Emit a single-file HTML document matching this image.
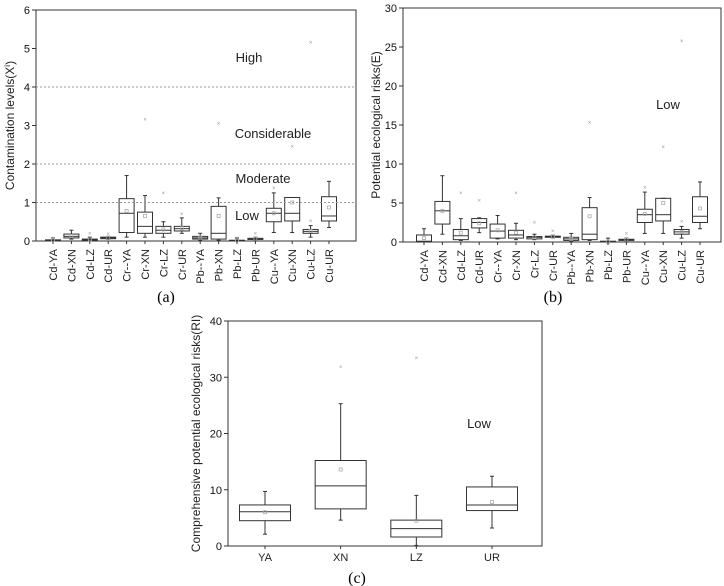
<!DOCTYPE html>
<html><head><meta charset="utf-8"><style>
body{margin:0;background:#fff}
svg{display:block;font-family:"Liberation Sans",sans-serif}
</style></head><body>
<svg id="s" width="724" height="586" viewBox="0 0 724 586"></svg>
<script>
const catsAB=["Cd-YA","Cd-XN","Cd-LZ","Cd-UR","Cr--YA","Cr-XN","Cr-LZ","Cr-UR","Pb--YA","Pb-XN","Pb-LZ","Pb-UR","Cu--YA","Cu-XN","Cu-LZ","Cu-UR"];
// [min,q1,median,q3,max]
const statsA=[[0,0.01,0.02,0.03,0.08],[0.05,0.08,0.12,0.18,0.28],[0,0.02,0.03,0.05,0.1],[0.04,0.06,0.08,0.1,0.12],[0.1,0.22,0.72,1.1,1.7],[0.1,0.2,0.38,0.75,1.18],[0.1,0.2,0.28,0.38,0.5],[0.2,0.26,0.32,0.38,0.6],[0.02,0.05,0.08,0.12,0.2],[0.02,0.05,0.2,0.9,1.12],[0,0.01,0.01,0.02,0.08],[0.02,0.04,0.05,0.07,0.1],[0.22,0.5,0.72,0.85,1.25],[0.22,0.52,0.72,1.13,1.13],[0.1,0.2,0.25,0.3,0.4],[0.35,0.52,0.65,1.15,1.55]];
const meansA=[0.03,0.13,0.04,0.08,0.78,0.65,0.3,0.33,0.09,0.65,0.02,0.06,0.72,1.0,0.26,0.87];
const outA=[[],[],[0.2],[0.18],[],[3.15],[1.25],[0.7],[],[3.05],[],[0.2],[1.38],[2.45],[0.52,5.15],[]];
const ticksA=[0,1,2,3,4,5,6];
const statsB=[[0,0,0.1,0.9,1.7],[1,2.3,4,5.2,8.5],[0.2,0.3,0.8,1.6,3],[1.2,1.8,2.5,3,3.1],[0.4,0.5,1.4,2.3,3.4],[0.3,0.5,0.9,1.5,2.4],[0.3,0.4,0.6,0.7,1],[0.5,0.6,0.7,0.75,0.9],[0.1,0.2,0.4,0.6,1.1],[0.2,0.3,1,4.4,5.7],[0,0,0.05,0.1,0.5],[0.1,0.2,0.3,0.35,0.5],[1.1,2.5,3.5,4.2,6.4],[1.1,2.7,3.5,5.6,5.6],[0.5,1,1.3,1.6,2],[1.7,2.5,3.3,5.8,7.7]];
const meansB=[0.5,4,1.2,2.4,1.5,1.2,0.6,0.7,0.4,3.3,0.05,0.3,3.6,5,1.3,4.3];
const outB=[[],[],[6.3],[5.3],[],[6.3],[2.5],[1.4],[],[15.3],[],[1.1],[7],[12.2],[2.6,25.8],[]];
const ticksB=[0,5,10,15,20,25,30];
const catsC=["YA","XN","LZ","UR"];
const statsC=[[2.1,4.5,6.1,7.3,9.7],[4.6,6.6,10.7,15.2,25.3],[0.1,1.6,3.1,4.6,9],[3.2,6.3,7.3,10.5,12.4]];
const meansC=[6,13.6,4.5,7.8];
const outC=[[],[31.8],[33.4],[]];
const ticksC=[0,10,20,30,40];

const S=document.getElementById('s'),NS="http://www.w3.org/2000/svg";
function mk(t,a,p){const e=document.createElementNS(NS,t);for(const k in a)e.setAttribute(k,a[k]);(p||S).appendChild(e);return e;}
function panel(id,L,R,T,B,ymax,ticks,cats,stats,means,outs,x0,x1,bw,rot,ytitle,tx){
  const g=mk('g',{});
  
  
  const y=v=>B-(v/ymax)*(B-T);
  const n=cats.length,x=i=>x0+(n>1?i*(x1-x0)/(n-1):0);
  const fr=mk('rect',{x:L,y:T,width:R-L,height:B-T,fill:'none',stroke:'#333','stroke-width':1},g);
  
  
  ticks.forEach(t=>{
    mk('line',{x1:L-4,x2:L,y1:y(t),y2:y(t),stroke:'#333'},g);
    const tt=mk('text',{x:L-6,y:y(t)+4,'text-anchor':'end','font-size':11,fill:'#111'},g);tt.textContent=t;
    
    
  });
  const yt=mk('text',{x:tx,y:(T+B)/2,'text-anchor':'middle','font-size':12,fill:'#222',transform:`rotate(-90 ${tx} ${(T+B)/2})`},g);
  yt.innerHTML=ytitle;
  
  
  cats.forEach((c,i)=>{
    const cx=x(i),s=stats[i],h=bw/2;
    const bg=mk('g',{},g);
    
    
    mk('line',{x1:cx,x2:cx,y1:y(s[0]),y2:y(s[1]),stroke:'#333'},bg);
    mk('line',{x1:cx,x2:cx,y1:y(s[3]),y2:y(s[4]),stroke:'#333'},bg);
    mk('line',{x1:cx-2,x2:cx+2,y1:y(s[0]),y2:y(s[0]),stroke:'#333'},bg);
    mk('line',{x1:cx-2,x2:cx+2,y1:y(s[4]),y2:y(s[4]),stroke:'#333'},bg);
    mk('rect',{x:cx-h,y:y(s[3]),width:bw,height:Math.max(0.5,y(s[1])-y(s[3])),fill:'none',stroke:'#333'},bg);
    mk('line',{x1:cx-h,x2:cx+h,y1:y(s[2]),y2:y(s[2]),stroke:'#333'},bg);
    mk('rect',{x:cx-1.5,y:y(means[i])-1.5,width:3,height:3,fill:'none',stroke:'#aaa','stroke-width':0.8},bg);
    outs[i].forEach(o=>{const t=mk('text',{x:cx,y:y(o)+2,'text-anchor':'middle','font-size':6,fill:'#999'},bg);t.textContent='×';});
    mk('line',{x1:cx,x2:cx,y1:B,y2:B+3,stroke:'#333'},g);
    let lt;
    if(rot){lt=mk('text',{x:cx+4,y:B+8,'text-anchor':'end','font-size':11,fill:'#222',transform:`rotate(-90 ${cx+4} ${B+8})`},g);}
    else lt=mk('text',{x:cx,y:B+15,'text-anchor':'middle','font-size':11,fill:'#222'},g);
    lt.textContent=c;
    
    
  });
  return {g,y};
}
const A=panel('panel-a-chart',36,356,10,241,6,ticksA,catsAB,statsA,meansA,outA,53,329,15,true,'Contamination levels(X<tspan font-size="8" baseline-shift="super">i</tspan>)',14);
[1,2,4].forEach(v=>mk('line',{x1:36,x2:356,y1:A.y(v),y2:A.y(v),stroke:'#999','stroke-dasharray':'2,2'},A.g));
[['High',249,62],['Considerable',273,138],['Moderate',263,183],['Low',247,220]].forEach(d=>{const t=mk('text',{x:d[1],y:d[2],'text-anchor':'middle','font-size':13,fill:'#222'},A.g);t.textContent=d[0];});
const Bp=panel('panel-b-chart',403,721,8,242,30,ticksB,catsAB,statsB,meansB,outB,424,700,15,true,'Potential ecological risks(E)',380);
{const t=mk('text',{x:668,y:109,'text-anchor':'middle','font-size':13,fill:'#222'},Bp.g);t.textContent='Low';}
const C=panel('panel-c-chart',228,542,321,546,40,ticksC,catsC,statsC,meansC,outC,265,492,51,false,'Comprehensive potential ecological risks(RI)',200);
{const t=mk('text',{x:479,y:428,'text-anchor':'middle','font-size':13,fill:'#222'},C.g);t.textContent='Low';}
[['(a)',166,302],['(b)',553,302],['(c)',357,583]].forEach(d=>{const t=mk('text',{x:d[1],y:d[2],'text-anchor':'middle','font-size':16,'font-family':'Liberation Serif,serif',fill:'#000'});t.textContent=d[0];});
</script>
</body></html>
